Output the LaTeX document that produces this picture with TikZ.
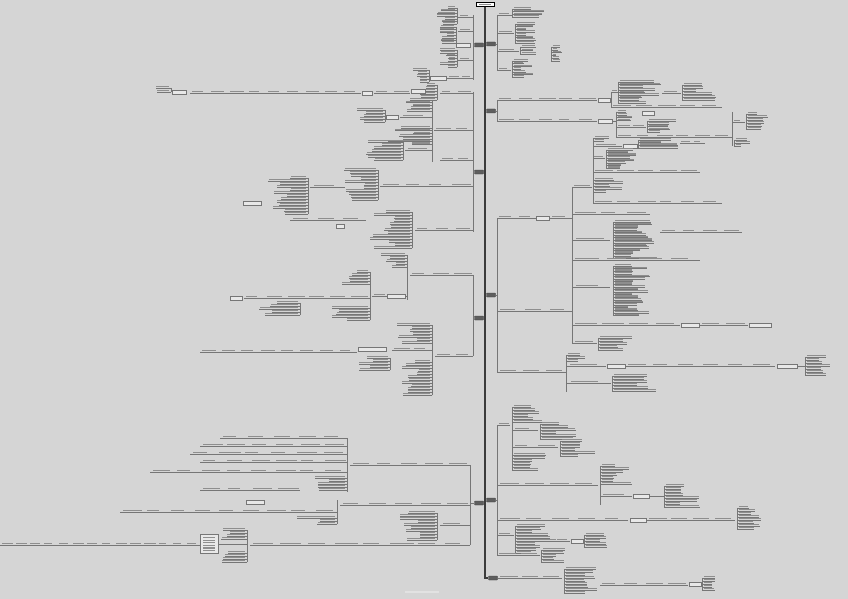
\documentclass[tikz,border=0pt]{standalone}
\usepackage{tikz}
\usetikzlibrary{positioning}

\definecolor{paper}{HTML}{D5D5D5}
\definecolor{ink}{HTML}{8E8E8E}
\definecolor{wire}{HTML}{767676}
\definecolor{stem}{HTML}{3C3C3C}
\definecolor{topicgray}{HTML}{5E5E5E}

% leaves to the right of a bracket: name, bracket x, first y, step, count, max width
\newcommand{\rfan}[6]{%
  \draw[twig] (#2,#3) -- (#2,{#3+(#5-1)*#4});
  \foreach \i in {1,...,#5}{%
    \pgfmathsetmacro\yy{#3+(\i-1)*#4}%
    \pgfmathsetmacro\ww{#6*(0.35+0.65*rnd)}%
    \coordinate (#1\i) at (#2,\yy);
    \node[leaf, anchor=south west, minimum width=\ww pt, xshift=1.5pt, yshift=0.5pt] (#1t\i) at (#1\i) {};
    \draw[twig] (#1\i) -- (#1t\i.south east |- #1\i);
  }}
% leaves to the left of a bracket
\newcommand{\lfan}[6]{%
  \draw[twig] (#2,#3) -- (#2,{#3+(#5-1)*#4});
  \foreach \i in {1,...,#5}{%
    \pgfmathsetmacro\yy{#3+(\i-1)*#4}%
    \pgfmathsetmacro\ww{#6*(0.35+0.65*rnd)}%
    \coordinate (#1\i) at (#2,\yy);
    \node[leaf, anchor=south east, minimum width=\ww pt, xshift=-1.5pt, yshift=0.5pt] (#1t\i) at (#1\i) {};
    \draw[twig] (#1\i) -- (#1t\i.south west |- #1\i);
  }}
% a row of labels on one line: name, left x, right x, y, count
\newcommand{\mrow}[5]{%
  \coordinate (#1a) at (#2,#4);
  \coordinate (#1b) at (#3,#4);
  \draw[twig] (#1a) -- (#1b);
  \foreach \i in {1,...,#5}{%
    \pgfmathsetmacro\seg{(#3-#2)/#5}%
    \pgfmathsetmacro\xx{#2+(\i-1)*\seg+0.1*\seg}%
    \pgfmathsetmacro\ww{\seg*(0.5+0.35*rnd)}%
    \node[leaf, anchor=south west, minimum width=\ww pt, yshift=0.5pt] (#1t\i) at (\xx,#4) {};
  }}

\begin{document}
\begin{tikzpicture}[x=1pt, y=-1pt,
    leaf/.style = {fill=ink, inner sep=0pt, minimum height=1.1pt},
    twig/.style = {draw=wire, line width=0.4pt},
    trunk/.style = {draw=stem, line width=1.8pt},
    topic/.style = {fill=topicgray, draw=stem, line width=0.4pt, rounded corners=0.6pt, minimum width=9pt, minimum height=4pt, inner sep=0pt},
    tag/.style = {fill=paper!55!white, draw=wire, line width=0.4pt, minimum width=#1, minimum height=4.5pt, inner sep=0pt},
    tag/.default = 12pt,
    root/.style = {fill=white, draw=black, line width=0.5pt, minimum width=18pt, minimum height=4.5pt, inner sep=0pt}]
    \pgfmathsetseed{41}
    \fill[paper] (0,0) rectangle (848,599);
    \useasboundingbox (0,0) rectangle (848,599);

    % stem and main topics
    \node[root] (root) at (485,4.5) {};
    \node[leaf, minimum width=12pt] (rootlbl) at (root) {};
    \coordinate (bend) at (485,578);
    \node[topic] (R5) at (493,578) {};
    \draw[trunk] (root.south) -- (bend) -- (R5.west);
    \node[topic] (R1) at (491,44) {};
    \node[topic] (R2) at (491,111) {};
    \node[topic] (R3) at (491,295) {};
    \node[topic] (R4) at (491,500) {};
    \node[topic] (L1) at (479,45) {};
    \node[topic] (L2) at (479,172) {};
    \node[topic] (L3) at (479,318) {};
    \node[topic] (L4) at (479,503) {};

    % R1
    \draw[twig] (R1.east) -- (497,44);
    \draw[twig] (497,15) -- (497,70);
    \mrow{ra}{497}{512}{15}{1}
    \rfan{rb}{512}{9}{2.7}{4}{34}
    \mrow{rc}{497}{514}{33}{1}
    \rfan{rd}{515}{24}{2.7}{8}{24}
    \mrow{re}{497}{519}{51}{1}
    \rfan{rf}{520}{47}{3.5}{3}{30}
    \rfan{rg}{551}{47}{2.8}{6}{10}
    \mrow{rh}{497}{511}{70}{1}
    \rfan{ri}{512}{61}{2.7}{7}{20}

    % R2
    \draw[twig] (R2.east) -- (497,111);
    \draw[twig] (497,100) -- (497,121);
    \mrow{rj}{497}{597}{100}{5}
    \node[tag] (rk) at (604,100) {};
    \draw[twig] (rk.east) -- (611,100);
    \draw[twig] (611,92) -- (611,107);
    \mrow{rl}{611}{618}{92}{1}
    \rfan{rm}{618}{82}{2.6}{9}{42}
    \mrow{rn}{611}{722}{107}{5}
    \mrow{ro}{662}{681}{93}{1}
    \rfan{rp}{682}{85}{3}{6}{32}
    \mrow{rq}{497}{597}{121}{5}
    \node[tag=14pt] (rr) at (605,121) {};
    \draw[twig] (rr.east) -- (616,121);
    \draw[twig] (616,112) -- (616,137);
    \rfan{rs}{616}{112}{2.8}{4}{22}
    \node[tag] (rt) at (648,113) {};
    \mrow{ru}{616}{646}{127}{2}
    \rfan{rv}{647}{121}{2.8}{5}{30}
    \mrow{rw}{616}{732}{137}{6}
    \draw[twig] (732,112) -- (732,146);
    \mrow{rx}{732}{745}{122}{1}
    \rfan{ry}{746}{114}{3}{6}{22}
    \rfan{rz}{734}{140}{3}{3}{14}

    % R3
    \draw[twig] (R3.east) -- (497,295);
    \draw[twig] (497,218) -- (497,372);
    \mrow{sa}{497}{536}{218}{2}
    \node[tag=13pt] (sb) at (543,218) {};
    \mrow{sc}{550}{572}{218}{1}
    \draw[twig] (572,187) -- (572,343);
    \mrow{sd}{572}{592}{187}{1}
    \draw[twig] (593,138) -- (593,203);
    \rfan{se}{593}{138}{3}{2}{16}
    \mrow{sf}{593}{622}{146}{1}
    \node[tag=14pt] (sg) at (630,146) {};
    \rfan{sh}{638}{140}{2.6}{4}{40}
    \mrow{si}{680}{705}{143}{2}
    \mrow{sj}{593}{605}{158}{1}
    \rfan{sk}{606}{150}{2.6}{8}{34}
    \mrow{sl}{593}{700}{172}{5}
    \rfan{sm}{593}{180}{3}{5}{30}
    \mrow{sn}{593}{722}{203}{6}
    \mrow{so}{572}{650}{214}{3}
    \mrow{sp}{572}{610}{240}{1}
    \rfan{sq}{613}{222}{2.6}{15}{44}
    \mrow{sr}{660}{742}{232}{4}
    \mrow{ss}{572}{700}{260}{4}
    \mrow{st}{572}{610}{287}{1}
    \rfan{su}{613}{266}{2.6}{20}{36}
    \mrow{sv}{572}{680}{325}{4}
    \node[tag=18pt] (sw) at (690,325) {};
    \mrow{sx}{699}{748}{325}{2}
    \node[tag=22pt] (sy) at (760,325) {};
    \mrow{sz}{497}{572}{311}{3}
    \mrow{ta}{572}{597}{343}{1}
    \rfan{tb}{598}{338}{3}{5}{44}
    \mrow{tc}{497}{566}{372}{3}
    \draw[twig] (566,355) -- (566,392);
    \rfan{td}{566}{355}{3}{3}{30}
    \mrow{te}{566}{606}{366}{1}
    \node[tag=18pt] (tf) at (616,366) {};
    \mrow{tg}{625}{700}{366}{3}
    \mrow{th}{566}{611}{383}{1}
    \rfan{ti}{612}{376}{3}{6}{44}
    \mrow{tj}{700}{775}{366}{3}
    \node[tag=20pt] (tk) at (787,366) {};
    \draw[twig] (tk.east) -- (805,366);
    \rfan{tl}{805}{357}{3}{7}{24}

    % R4
    \draw[twig] (R4.east) -- (497,500);
    \draw[twig] (497,425) -- (497,555);
    \mrow{ua}{497}{510}{425}{1}
    \draw[twig] (512,407) -- (512,470);
    \rfan{ub}{512}{407}{3}{6}{30}
    \mrow{uc}{512}{538}{430}{1}
    \rfan{ud}{540}{424}{3}{6}{40}
    \mrow{ue}{512}{558}{447}{2}
    \rfan{uf}{560}{441}{3}{6}{38}
    \rfan{ug}{512}{455}{3}{6}{36}
    \mrow{uh}{497}{598}{485}{4}
    \draw[twig] (600,466) -- (600,505);
    \rfan{ui}{600}{466}{3}{7}{30}
    \mrow{uj}{600}{632}{496}{1}
    \node[tag=16pt] (uk) at (641,496) {};
    \draw[twig] (uk.east) -- (664,496);
    \rfan{ul}{664}{486}{3}{8}{36}
    \mrow{um}{497}{628}{520}{5}
    \node[tag=16pt] (un) at (638,520) {};
    \mrow{uo}{647}{735}{520}{4}
    \rfan{up}{737}{508}{3}{8}{26}
    \mrow{uq}{497}{514}{535}{1}
    \rfan{ur}{515}{526}{3}{10}{40}
    \mrow{us}{555}{570}{541}{1}
    \node[tag] (ut) at (577,541) {};
    \rfan{uu}{584}{535}{3}{5}{26}
    \mrow{uv}{497}{540}{555}{2}
    \rfan{uw}{541}{550}{3}{5}{30}

    % R5
    \mrow{va}{498}{562}{578}{3}
    \rfan{vb}{564}{569}{3}{9}{34}
    \mrow{vc}{600}{688}{585}{4}
    \node[tag] (vd) at (695,584) {};
    \rfan{ve}{702}{578}{3}{5}{16}

    % L1
    \draw[twig] (L1.west) -- (473,45);
    \draw[twig] (473,15) -- (473,80);
    \mrow{la}{458}{473}{17}{1}
    \lfan{lb}{457}{8}{2.7}{7}{18}
    \mrow{lc}{458}{473}{31}{1}
    \lfan{ld}{456}{27}{2.7}{7}{16}
    \node[tag=14pt] (le) at (463,45) {};
    \mrow{lf}{458}{473}{60}{1}
    \lfan{lg}{457}{50}{2.8}{7}{16}
    \mrow{lh}{447}{473}{78}{2}
    \node[tag=16pt] (li) at (438,78) {};
    \lfan{lj}{429}{70}{3}{5}{14}

    % L2
    \draw[twig] (L2.west) -- (473,172);
    \draw[twig] (473,92) -- (473,232);
    \mrow{ma}{440}{473}{93}{2}
    \lfan{mb}{437}{85}{3}{6}{16}
    \node[tag=14pt] (mc) at (418,91) {};
    \mrow{md}{374}{410}{93}{2}
    \node[tag=10pt] (me) at (367,93) {};
    \mrow{mf}{190}{361}{93}{9}
    \node[tag=14pt] (mg) at (179,92) {};
    \lfan{mh}{171}{88}{4}{2}{18}
    \mrow{mi}{434}{473}{130}{2}
    \draw[twig] (432,100) -- (432,162);
    \lfan{mj}{432}{100}{2.7}{5}{34}
    \mrow{mk}{400}{432}{117}{1}
    \node[tag] (ml) at (392,117) {};
    \lfan{mm}{385}{110}{3}{5}{26}
    \lfan{mn}{432}{128}{2.7}{7}{44}
    \mrow{mo}{405}{432}{150}{1}
    \lfan{mp}{403}{142}{3}{7}{36}
    \mrow{mq}{440}{473}{160}{2}
    \mrow{mr}{380}{473}{186}{4}
    \lfan{ms}{378}{170}{3}{11}{32}
    \mrow{mt}{310}{345}{187}{1}
    \lfan{mu}{308}{178}{3}{13}{40}
    \node[tag=18pt] (mv) at (252,203) {};
    \mrow{mw}{415}{473}{230}{3}
    \lfan{mx}{412}{212}{3}{13}{44}
    \mrow{my}{290}{366}{220}{3}
    \node[tag=8pt] (mz) at (340,226) {};

    % L3
    \draw[twig] (L3.west) -- (473,318);
    \draw[twig] (473,275) -- (473,356);
    \mrow{na}{410}{473}{275}{3}
    \draw[twig] (407,255) -- (407,300);
    \lfan{nb}{407}{255}{3}{5}{24}
    \node[tag=18pt] (nc) at (396,296) {};
    \draw[twig] (nc.east) -- (407,296);
    \mrow{nd}{372}{387}{296}{1}
    \draw[twig] (370,272) -- (370,320);
    \lfan{ne}{370}{272}{3}{5}{30}
    \mrow{nf}{244}{370}{298}{6}
    \lfan{ng}{370}{308}{3}{5}{40}
    \node[tag] (nh) at (236,298) {};
    \lfan{ni}{300}{303}{3}{5}{40}
    \mrow{nj}{435}{473}{356}{2}
    \draw[twig] (432,325) -- (432,395);
    \lfan{nk}{432}{325}{3}{7}{34}
    \mrow{nl}{392}{432}{350}{2}
    \node[tag=28pt] (nm) at (372,349) {};
    \mrow{nn}{200}{357}{352}{8}
    \lfan{no}{432}{362}{3}{12}{30}
    \lfan{np}{390}{358}{3}{5}{30}

    % L4
    \draw[twig] (L4.west) -- (470,503);
    \draw[twig] (470,465) -- (470,545);
    \mrow{pa}{350}{470}{465}{5}
    \draw[twig] (347,438) -- (347,492);
    \mrow{pb}{220}{347}{438}{5}
    \mrow{pc}{200}{347}{446}{6}
    \mrow{pd}{190}{347}{454}{6}
    \mrow{pe}{200}{347}{462}{6}
    \mrow{pf}{150}{347}{472}{8}
    \lfan{pg}{347}{478}{3}{5}{40}
    \mrow{ph}{200}{300}{490}{4}
    \mrow{pi}{340}{470}{505}{5}
    \draw[twig] (337,500) -- (337,524);
    \mrow{pj}{120}{337}{512}{9}
    \node[tag=18pt] (pk) at (255,502) {};
    \lfan{pl}{337}{518}{3}{3}{40}
    \mrow{pm}{440}{470}{525}{1}
    \lfan{pn}{437}{513}{3}{10}{36}
    \mrow{pp}{250}{470}{545}{8}
    \draw[twig] (247,530) -- (247,562);
    \lfan{pq}{247}{530}{3}{4}{24}
    \lfan{pr}{247}{553}{3}{4}{24}
    \node[tag=18pt, minimum height=19pt] (ps) at (209,544) {};
    \foreach \k in {1,...,6}
        \node[leaf, minimum width=12pt] (ps\k) at (209,{535+\k*2.6}) {};
    \draw[twig] (ps.east) -- (247,544);
    \mrow{pt}{0}{200}{545}{14}

    % footer
    \node[leaf, fill=paper!70!white, minimum width=34pt] (foot) at (422,592) {};
\end{tikzpicture}
\end{document}
